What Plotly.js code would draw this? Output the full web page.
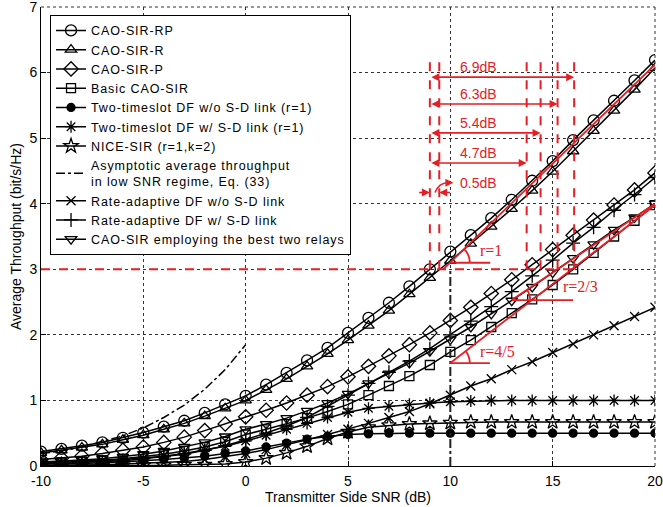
<!DOCTYPE html>
<html>
<head>
<meta charset="utf-8">
<script src="https://cdn.plot.ly/plotly-3.0.1.min.js"></script>
<style>html,body{margin:0;padding:0;background:#fff}#chart{width:663px;height:507px}
.legendtext{letter-spacing:0.9px}</style>
</head>
<body>
<div id="chart"></div>
<script>
// ---------- data ----------
const snr = [-10,-9,-8,-7,-6,-5,-4,-3,-2,-1,0,1,2,3,4,5,6,7,8,9,10,11,12,13,14,15,16,17,18,19,20];
const caoSirRP = [0.22,0.26,0.31,0.36,0.43,0.51,0.60,0.69,0.81,0.94,1.07,1.24,1.42,1.61,1.80,2.03,2.26,2.49,2.74,3.00,3.27,3.52,3.78,4.06,4.35,4.65,4.97,5.27,5.57,5.88,6.19];
const caoSirR = [0.20,0.24,0.28,0.33,0.40,0.47,0.56,0.65,0.76,0.88,1.00,1.16,1.33,1.52,1.71,1.92,2.14,2.37,2.62,2.87,3.13,3.39,3.65,3.92,4.20,4.49,4.80,5.11,5.42,5.74,6.07];
const caoSirP = [0.10,0.12,0.15,0.19,0.24,0.29,0.36,0.44,0.54,0.64,0.75,0.85,0.96,1.08,1.21,1.36,1.52,1.68,1.85,2.03,2.22,2.42,2.63,2.84,3.07,3.30,3.52,3.75,3.98,4.21,4.47];
const basicCaoSir = [0.05,0.06,0.07,0.09,0.11,0.14,0.18,0.23,0.29,0.37,0.48,0.56,0.64,0.73,0.83,0.94,1.08,1.22,1.37,1.54,1.74,1.92,2.12,2.33,2.54,2.76,3.00,3.25,3.50,3.74,3.98];
const dfNoSD = [0.03,0.03,0.04,0.05,0.06,0.08,0.10,0.12,0.15,0.19,0.23,0.29,0.35,0.41,0.45,0.48,0.49,0.50,0.50,0.50,0.50,0.50,0.50,0.50,0.50,0.50,0.50,0.50,0.50,0.50,0.50];
const dfWithSD = [0.04,0.05,0.06,0.08,0.10,0.12,0.15,0.19,0.24,0.30,0.38,0.47,0.56,0.65,0.74,0.82,0.88,0.91,0.94,0.96,0.98,0.99,1.00,1.00,1.00,1.00,1.00,1.00,1.00,1.00,1.00];
const niceSir = [0.00,0.00,0.01,0.01,0.01,0.01,0.01,0.02,0.02,0.03,0.06,0.12,0.20,0.30,0.42,0.52,0.59,0.62,0.64,0.65,0.66,0.67,0.67,0.67,0.67,0.67,0.67,0.67,0.67,0.67,0.67];
const snrAsym = [-10,-9,-8,-7,-6,-5,-4,-3,-2,-1,0];
const asymptotic = [0.19,0.23,0.29,0.37,0.46,0.58,0.74,0.93,1.17,1.47,1.85];
const raNoSD = [0.01,0.01,0.02,0.02,0.03,0.04,0.05,0.07,0.10,0.14,0.19,0.25,0.32,0.40,0.48,0.56,0.65,0.74,0.83,0.95,1.08,1.22,1.33,1.47,1.59,1.73,1.86,2.00,2.14,2.28,2.42];
const raWithSD = [0.03,0.04,0.05,0.06,0.08,0.11,0.14,0.18,0.24,0.31,0.40,0.50,0.61,0.74,0.91,1.08,1.26,1.43,1.60,1.79,2.00,2.21,2.43,2.66,2.90,3.14,3.40,3.64,3.90,4.14,4.40];
const bestTwo = [0.06,0.07,0.09,0.11,0.14,0.18,0.23,0.29,0.36,0.45,0.56,0.64,0.73,0.84,0.96,1.10,1.26,1.41,1.57,1.75,1.93,2.12,2.32,2.52,2.73,2.95,3.17,3.38,3.60,3.79,4.00];

const legendNames = [
  "CAO-SIR-RP","CAO-SIR-R","CAO-SIR-P","Basic CAO-SIR",
  "Two-timeslot DF w/o S-D link (r=1)","Two-timeslot DF w/ S-D link (r=1)",
  "NICE-SIR (r=1,k=2)","Asymptotic average throughput<br>in low SNR regime, Eq. (33)",
  "Rate-adaptive DF w/o S-D link","Rate-adaptive DF w/ S-D link",
  "CAO-SIR employing the best two relays"
];

// annotation data (dB gaps at throughput = 3)
const targetRate = 3;
const gapStartSNR = 9.0;
const crossSNR = [9.46, 13.73, 14.41, 15.24, 16.05];
const gapLabels = ["0.5dB","4.7dB","5.4dB","6.3dB","6.9dB"];
const gapArrowY = [4.17, 4.62, 5.08, 5.52, 5.93];
const gapTopY = 6.25;
const slopeLines = [
  {x0: 9.65, y0: 3.00, vx: 10.0, vy: 3.10, x1: 20, y1: 6.12, hEnd: 11.95, label: "r=1",   lx: 12.0, ly: 3.28},
  {x0: 13.0, y0: 2.53, vx: 13.0, vy: 2.53, x1: 20, y1: 4.00, hEnd: 16.0,  label: "r=2/3", lx: 16.35, ly: 2.74},
  {x0: 10.0, y0: 1.57, vx: 10.0, vy: 1.57, x1: 20, y1: 3.98, hEnd: 11.93, label: "r=4/5", lx: 12.3, ly: 1.74}
];
const arcRadiusDB = [0.95, 0.9, 0.95];
const markerSNR = 10;
const markerTop = 3.0;

// ---------- traces ----------
const black = "#000";
function tr(x, y, name, symbol, size, dash) {
  const t = {
    x: x, y: y, name: name, type: "scatter",
    mode: symbol ? "lines+markers" : "lines",
    line: {color: black, width: 1.5, dash: dash || "solid"}
  };
  if (symbol) t.marker = {symbol: symbol, size: size, color: black, line: {color: black, width: 1.3}};
  return t;
}
const data = [
  tr(snr, caoSirRP, legendNames[0], "circle-open", 11),
  tr(snr, caoSirR, legendNames[1], "triangle-up-open", 10),
  tr(snr, caoSirP, legendNames[2], "diamond-open", 11),
  tr(snr, basicCaoSir, legendNames[3], "square-open", 9),
  tr(snr, dfNoSD, legendNames[4], "circle", 8),
  tr(snr, dfWithSD, legendNames[5], "asterisk-open", 10),
  tr(snr, niceSir, legendNames[6], "star-open", 11),
  tr(snrAsym, asymptotic, legendNames[7], null, 0, "dashdot"),
  tr(snr, raNoSD, legendNames[8], "x-thin-open", 9),
  tr(snr, raWithSD, legendNames[9], "cross-thin-open", 10),
  tr(snr, bestTwo, legendNames[10], "triangle-down-open", 10)
];

// ---------- annotations & shapes ----------
const red = "rgb(228,32,38)";
const shapes = [];
const annotations = [];
shapes.push({type:"line", xref:"paper", yref:"paper", x0:0, x1:1, y0:1, y1:1, line:{color:"#333", width:1, dash:"dot"}});
shapes.push({type:"line", xref:"paper", yref:"paper", x0:1, x1:1, y0:0, y1:1, line:{color:"#333", width:1, dash:"dot"}});
shapes.push({type:"line", xref:"x", yref:"y", x0:snr[0], x1:crossSNR[crossSNR.length-1], y0:targetRate, y1:targetRate, line:{color:red, width:2, dash:"dash"}});
[gapStartSNR].concat(crossSNR).forEach(function(xv){
  shapes.push({type:"line", xref:"x", yref:"y", x0:xv, x1:xv, y0:targetRate, y1:gapTopY, line:{color:red, width:2, dash:"dash"}});
});
shapes.push({type:"line", xref:"x", yref:"y", x0:markerSNR, x1:markerSNR, y0:0, y1:markerTop, line:{color:"#222", width:2, dash:"dashdot"}});
for (let i = 1; i < crossSNR.length; i++) {
  annotations.push({x: crossSNR[i], y: gapArrowY[i], ax: gapStartSNR, ay: gapArrowY[i], xref:"x", yref:"y", axref:"x", ayref:"y",
    text:"", showarrow:true, arrowhead:2, arrowsize:1, arrowwidth:1.6, arrowcolor:red, arrowside:"end+start", standoff:0, startstandoff:0});
  annotations.push({x: 11.38, y: gapArrowY[i] + 0.15, xref:"x", yref:"y", text: gapLabels[i], showarrow:false,
    font:{family:"Arial, Liberation Sans, sans-serif", size:14, color:red}});
}
annotations.push({x: gapStartSNR, y: gapArrowY[0], ax: gapStartSNR - 0.6, ay: gapArrowY[0], xref:"x", yref:"y", axref:"x", ayref:"y",
  text:"", showarrow:true, arrowhead:2, arrowsize:1, arrowwidth:1.6, arrowcolor:red, standoff:0});
annotations.push({x: crossSNR[0], y: gapArrowY[0], ax: crossSNR[0] + 0.6, ay: gapArrowY[0], xref:"x", yref:"y", axref:"x", ayref:"y",
  text:"", showarrow:true, arrowhead:2, arrowsize:1, arrowwidth:1.6, arrowcolor:red, standoff:0});
shapes.push({type:"path", xref:"x", yref:"y", path:"M 9.25 " + gapArrowY[0] + " Q 9.45 4.33 9.95 4.32", line:{color:red, width:1.6}});
annotations.push({x: 10.15, y: 4.32, ax: 9.85, ay: 4.32, xref:"x", yref:"y", axref:"x", ayref:"y",
  text:"", showarrow:true, arrowhead:2, arrowsize:1, arrowwidth:1.6, arrowcolor:red, standoff:0});
annotations.push({x: 11.38, y: 4.32, xref:"x", yref:"y", text: gapLabels[0], showarrow:false,
  font:{family:"Arial, Liberation Sans, sans-serif", size:14, color:red}});
const pxPerDB = 614/30, pxPerUnit = 459/7;
slopeLines.forEach(function(s, i){
  shapes.push({type:"line", xref:"x", yref:"y", x0:s.x0, y0:s.y0, x1:s.x1, y1:s.y1, line:{color:red, width:1.8}});
  shapes.push({type:"line", xref:"x", yref:"y", x0:s.vx, y0:s.vy, x1:s.hEnd, y1:s.vy, line:{color:red, width:1.8}});
  const ang = Math.atan(((s.y1 - s.vy)/(s.x1 - s.vx)) * pxPerUnit / pxPerDB);
  const rpx = arcRadiusDB[i] * pxPerDB;
  let p = "";
  for (let k = 0; k <= 10; k++) {
    const a = ang * k / 10;
    const px = s.vx + rpx*Math.cos(a)/pxPerDB, py = s.vy + rpx*Math.sin(a)/pxPerUnit;
    p += (k === 0 ? "M " : " L ") + px.toFixed(3) + " " + py.toFixed(3);
  }
  shapes.push({type:"path", xref:"x", yref:"y", path:p, line:{color:red, width:1.8}});
  annotations.push({x: s.lx, y: s.ly, xref:"x", yref:"y", text: s.label, showarrow:false,
    font:{family:"Liberation Serif, Times New Roman, serif", size:16, color:red}});
});

const font = {family:"Arial, Liberation Sans, sans-serif", size:13, color:"#000"};
const layout = {
  width: 663, height: 507,
  margin: {l:41, r:8, t:7, b:41, pad:0},
  paper_bgcolor:"#fff", plot_bgcolor:"#fff",
  font: font,
  showlegend: true,
  legend: {x: 0.0147, y: 0.983, xanchor:"left", yanchor:"top", bgcolor:"#fff", bordercolor:"#000", borderwidth:1,
           font:{family:"Arial, Liberation Sans, sans-serif", size:12.5, color:"#000"}, tracegroupgap:0, itemwidth:30},
  xaxis: {range:[-10,20], tickvals:[-10,-5,0,5,10,15,20], ticktext:["-10","-5","0","5","10","15","20"],
          showgrid:true, gridcolor:"#333", griddash:"dot", gridwidth:1, zeroline:false,
          showline:true, linecolor:"#000", linewidth:1, ticks:"inside", ticklen:5, tickcolor:"#000",
          ticklabeloverflow:"allow", ticklabelstandoff:2,
          tickfont:{family:"Arial, Liberation Sans, sans-serif", size:14, color:"#000"},
          title:{text:"Transmitter Side SNR (dB)", standoff:2, font:{family:"Arial, Liberation Sans, sans-serif", size:14, color:"#000"}}},
  yaxis: {range:[0,7], tickvals:[0,1,2,3,4,5,6,7], ticktext:["0","1","2","3","4","5","6","7"],
          showgrid:true, gridcolor:"#333", griddash:"dot", gridwidth:1, zeroline:false,
          showline:true, linecolor:"#000", linewidth:1, ticks:"inside", ticklen:5, tickcolor:"#000",
          ticklabeloverflow:"allow",
          tickfont:{family:"Arial, Liberation Sans, sans-serif", size:14, color:"#000"},
          title:{text:"Average Throughput (bit/s/Hz)", standoff:4, font:{family:"Arial, Liberation Sans, sans-serif", size:14, color:"#000"}}},
  shapes: shapes,
  annotations: annotations
};
Plotly.newPlot("chart", data, layout, {staticPlot:true, displayModeBar:false});
</script>
</body>
</html>
